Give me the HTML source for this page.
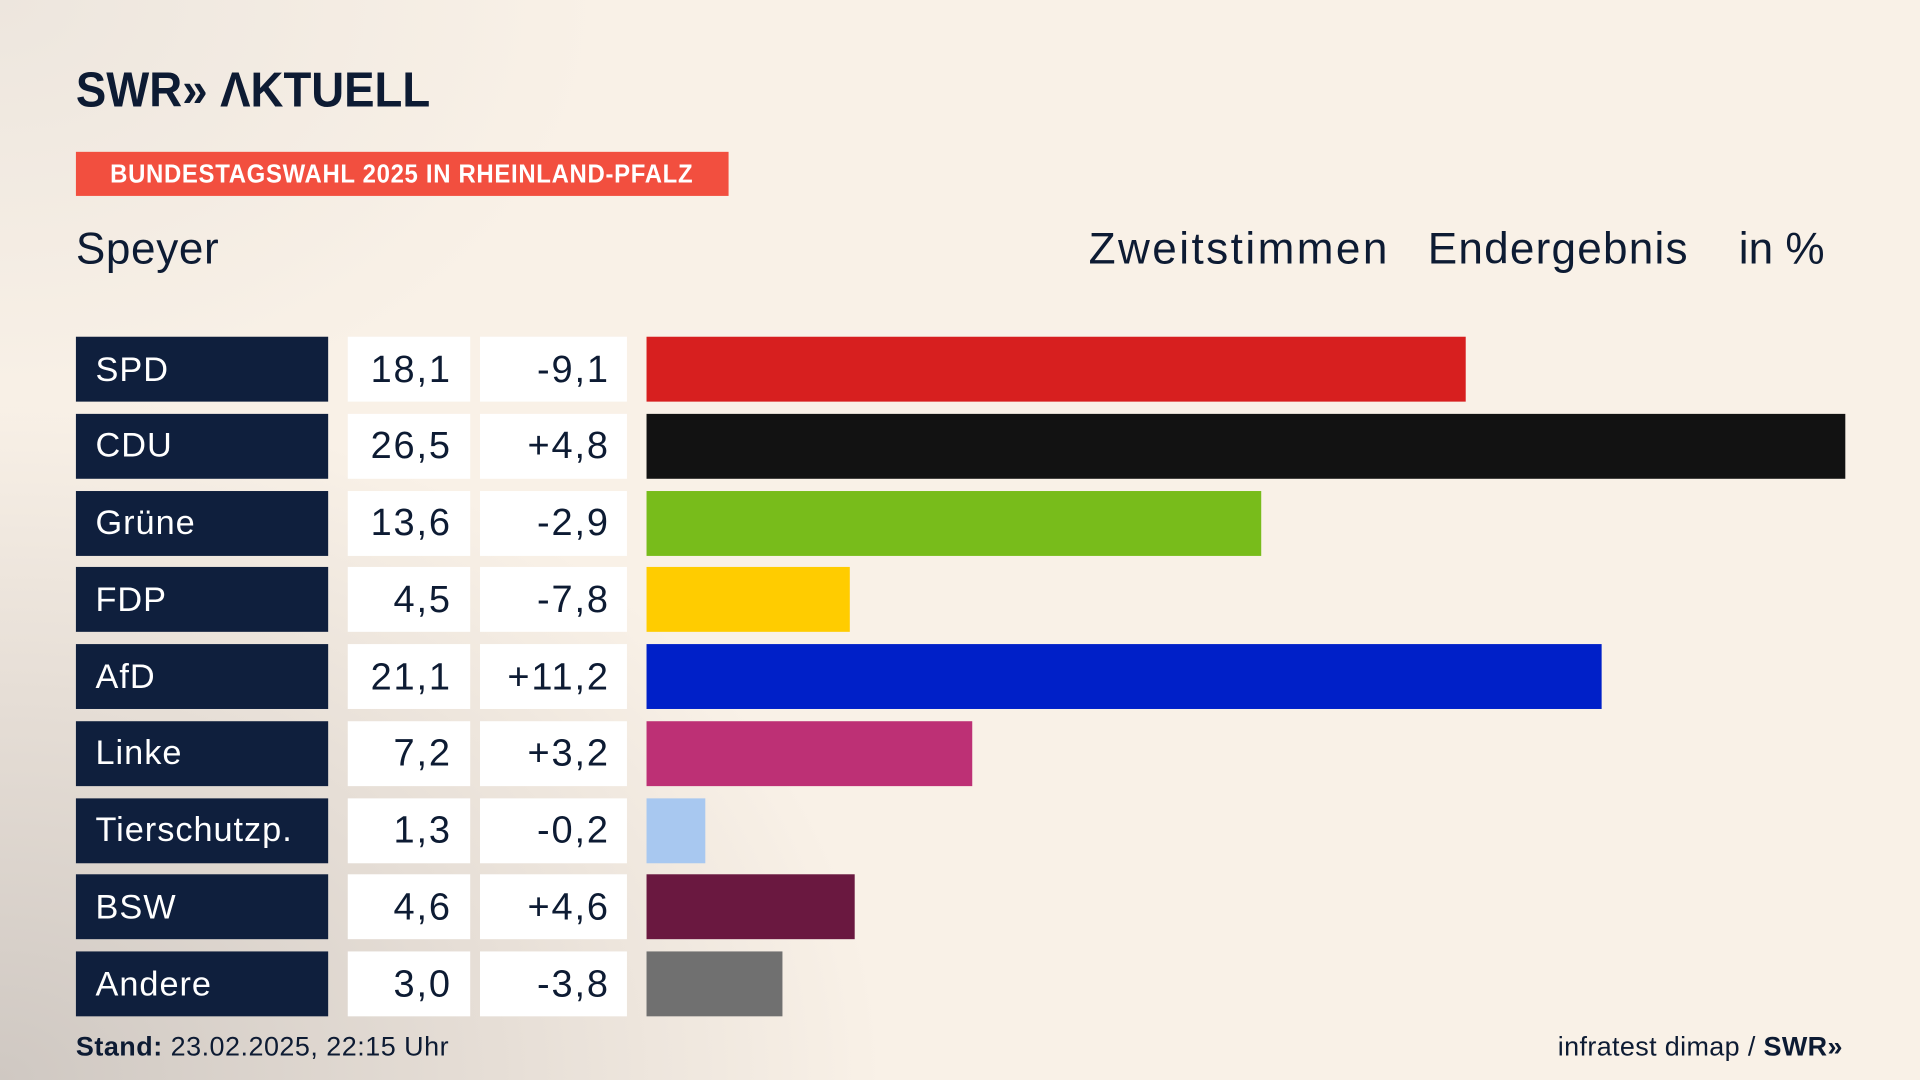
<!DOCTYPE html>
<html><head><meta charset="utf-8"><style>
html,body{margin:0;padding:0;width:1920px;height:1080px;overflow:hidden}
#root{position:absolute;left:0;top:0;width:1568px;height:882px;transform:scale(1.22449);transform-origin:0 0;
background:radial-gradient(ellipse 900px 700px at 0px 882px,#cfc8c2 0%,#e6ded6 45%,rgba(248,240,230,0) 80%),radial-gradient(ellipse 700px 500px at 0 0,#ede6de 0%,rgba(248,240,230,0) 70%),#f9f1e7;
font-family:"Liberation Sans",sans-serif;color:#0d1b33}
.abs{position:absolute;white-space:nowrap}
.lbl{background:#0f1f3d;color:#fff;font-size:28px;letter-spacing:0.8px;box-sizing:border-box;padding-left:16px;display:flex;align-items:center}
.val{background:#fff;font-size:31px;letter-spacing:1.5px;box-sizing:border-box;display:flex;align-items:center;justify-content:flex-end}
</style></head><body>
<div id="root">
<div class="abs" style="left:62px;top:52px;font-size:40px;font-weight:bold;letter-spacing:0px;transform:scaleX(0.93);transform-origin:0 0">SWR» ΛKTUELL</div>
<div class="abs" style="left:62px;top:124px;width:533px;height:36px;background:#f24f3f;color:#fff;font-weight:bold;font-size:21px;line-height:37px;text-align:center;"><span style="display:inline-block;letter-spacing:0.6px;transform:scaleX(0.93)">BUNDESTAGSWAHL 2025 IN RHEINLAND-PFALZ</span></div>
<div class="abs" style="left:62px;top:182px;font-size:36px;letter-spacing:0.5px">Speyer</div>
<div class="abs" style="left:889px;top:182px;font-size:36px;letter-spacing:2px">Zweitstimmen</div>
<div class="abs" style="left:1166px;top:182px;font-size:36px;letter-spacing:1px">Endergebnis</div>
<div class="abs" style="left:1420px;top:182px;font-size:36px">in %</div>
<div id="rows"></div>
<div class="abs" style="left:62px;top:842px;font-size:22px;letter-spacing:0.4px"><b>Stand:</b> 23.02.2025, 22:15 Uhr</div>
<div class="abs" style="right:63px;top:842px;font-size:22px;letter-spacing:0.3px">infratest dimap / <b>SWR»</b></div>
</div>
<script>
const parties=["SPD","CDU","Grüne","FDP","AfD","Linke","Tierschutzp.","BSW","Andere"];
const values=[18.1,26.5,13.6,4.5,21.1,7.2,1.3,4.6,3.0];
const diffs=["-9,1","+4,8","-2,9","-7,8","+11,2","+3,2","-0,2","+4,6","-3,8"];
const colors=["#d71f1f","#121212","#78bc1b","#ffcc00","#0020c8","#bd3075","#a8c8f0","#6a1840","#707070"];
const x0=528,pxPer=979/26.5,top0=275,pitch=62.75,h=53;
function xs(v){return v*pxPer;}
function ys(i){return top0+i*pitch;}
const root=document.getElementById('rows');
function mk(cls,l,t,w,txt,style){const d=document.createElement('div');d.className='abs '+cls;d.style.left=l+'px';d.style.top=t+'px';d.style.width=w+'px';d.style.height=h+'px';if(txt!==null)d.textContent=txt;if(style)d.style.cssText+=style;root.appendChild(d);return d;}
parties.forEach((p,i)=>{
 const y=ys(i);
 const a=mk('lbl',62,y,206,p);
 
 
 const b=mk('val',284,y,100,values[i].toFixed(1).replace('.',','),'padding-right:15px');
 
 
 const c=mk('val',392,y,120,diffs[i],'padding-right:14px');
 
 
 const bar=mk('',x0,y,xs(values[i]),null,'background:'+colors[i]);
 
 
});
</script>
</body></html>
